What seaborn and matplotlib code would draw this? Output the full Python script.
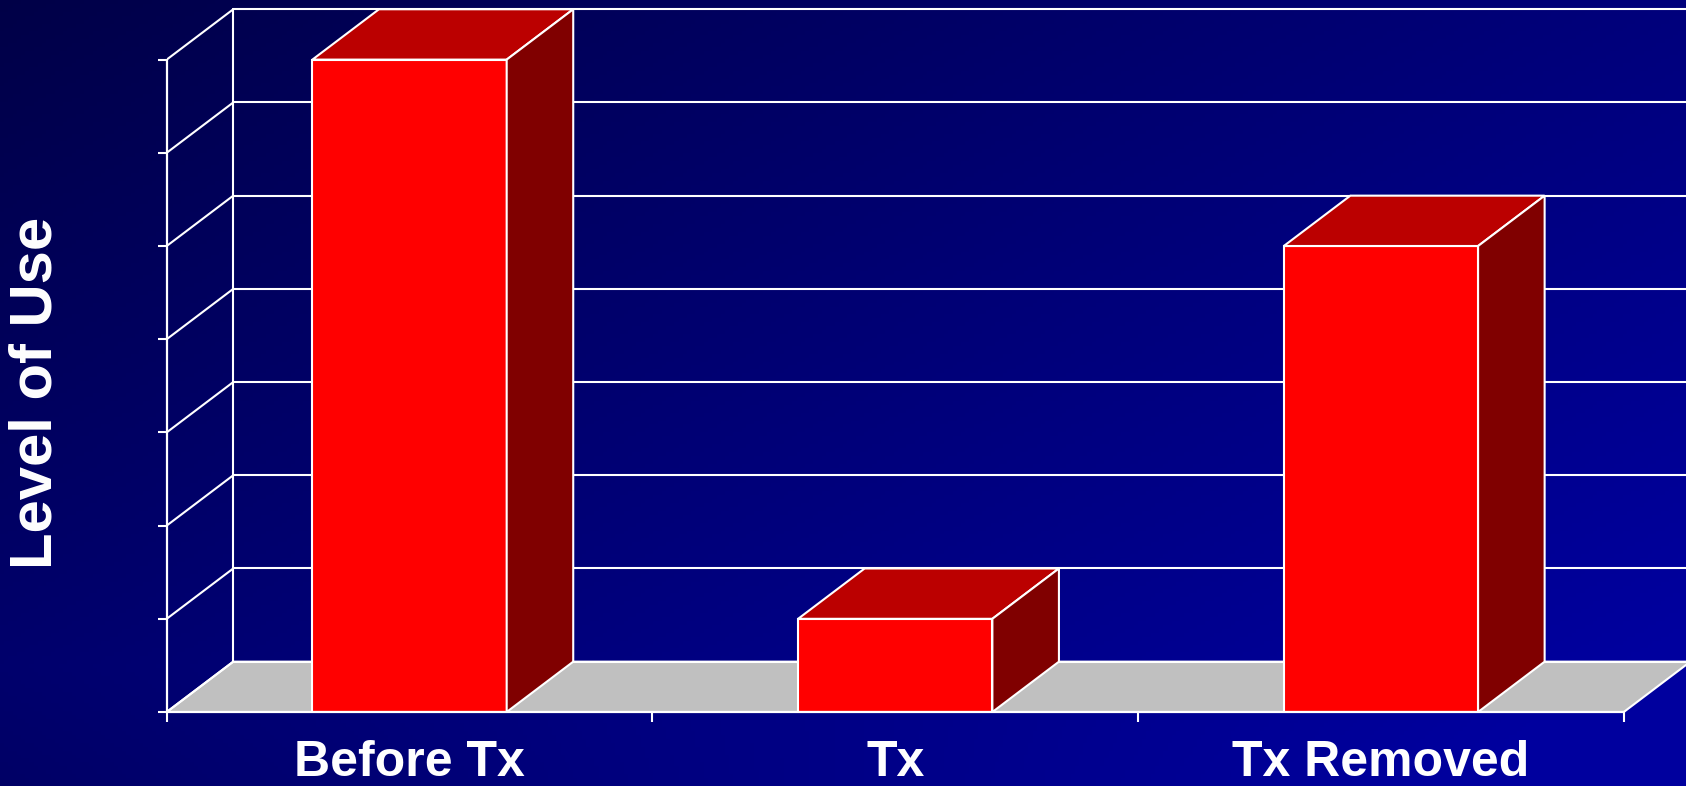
import numpy as np
import pandas as pd
import matplotlib
matplotlib.use("Agg")
import matplotlib.pyplot as plt
import seaborn as sns
from matplotlib.patches import Polygon

# dados (unidades = linhas de grade)
fases = ["Before Tx", "Tx", "Tx Removed"]
nivel = [7, 1, 5]
grade = [0, 1, 2, 3, 4, 5, 6, 7]

dados = pd.DataFrame({"fase": fases, "nivel": nivel})

sns.set_style("white")
plt.rcParams["font.family"] = ["Liberation Sans", "DejaVu Sans"]

fig = plt.figure(figsize=(16.86, 7.86), dpi=100)

# fundo azul em degrade
fundo = fig.add_axes([0, 0, 1, 1], zorder=-1)
xx, yy = np.meshgrid(np.linspace(0, 1, 400), np.linspace(0, 1, 200))
t = np.clip(0.6 * xx + 0.5 * yy - 0.25 * np.clip(yy - 0.85, 0, 1) * 4 * (1 - xx), 0, 1)
img = np.dstack([np.zeros_like(t), np.zeros_like(t), 0.28 + 0.34 * t])
fundo.imshow(img, aspect="auto", extent=[0, 1, 0, 1], origin="upper")
fundo.axis("off")

ax = fig.add_axes([166.7 / 1686, 74 / 786, 1 - 166.7 / 1686, 712 / 786])
ax.set_facecolor("none")

# profundidade do efeito 3D
dx, dy = 0.137, 0.54

sns.barplot(data=dados, x="fase", y="nivel", color="#FF0000", saturation=1,
            width=0.4, edgecolor="white", linewidth=1.5, ax=ax, zorder=3)

x_lo = -0.5
x_hi = len(fases) - 0.5

# chao cinza
ax.add_patch(Polygon([(x_lo, 0), (x_hi, 0), (x_hi + dx, dy), (x_lo + dx, dy)],
                     closed=True, fc="#C0C0C0", ec="white", lw=1.5, zorder=1))

# parede do fundo e parede lateral
for g in grade:
    ax.plot([x_lo + dx, x_hi + 2], [g + dy, g + dy], color="white", lw=1.5, zorder=1.5)
    ax.plot([x_lo, x_lo + dx], [g, g + dy], color="white", lw=1.5, zorder=1.5)
ax.plot([x_lo + dx, x_lo + dx], [dy, grade[-1] + dy], color="white", lw=1.5, zorder=1.5)

# topo e lado das barras
for p in list(ax.patches):
    if not hasattr(p, "get_x"):
        continue
    x0, w, h = p.get_x(), p.get_width(), p.get_height()
    ax.add_patch(Polygon([(x0, h), (x0 + w, h), (x0 + w + dx, h + dy), (x0 + dx, h + dy)],
                         closed=True, fc="#BB0000", ec="white", lw=1.5, zorder=3))
    ax.add_patch(Polygon([(x0 + w, 0), (x0 + w + dx, dy), (x0 + w + dx, h + dy), (x0 + w, h)],
                         closed=True, fc="#800000", ec="white", lw=1.5, zorder=3))

ax.set_xlim(x_lo, x_lo + 1519.3 / 485.7)
ax.set_ylim(0, 712 / 93.2)

for s in ["top", "right"]:
    ax.spines[s].set_visible(False)
ax.spines["left"].set_bounds(grade[0], grade[-1])
ax.spines["bottom"].set_bounds(x_lo, x_hi)
for s in ["left", "bottom"]:
    ax.spines[s].set_color("white")
    ax.spines[s].set_linewidth(1.6)
    ax.spines[s].set_zorder(4)

ax.set_yticks(grade)
ax.set_yticklabels([])
ax.tick_params(axis="y", left=True, direction="out", length=6.5, width=1.5, color="white")
ax.set_xticks(np.arange(x_lo, x_hi + 0.1, 1), minor=True)
ax.tick_params(axis="x", which="minor", bottom=True, direction="out", length=7.5,
               width=1.5, color="white")
ax.tick_params(axis="x", which="major", length=0, pad=20, labelsize=36, labelcolor="white")
for lab in ax.get_xticklabels():
    lab.set_fontweight("bold")

ax.set_xlabel("")
ax.set_ylabel("Level of Use", fontsize=43, fontweight="bold", color="white")
ax.yaxis.label.set_va("center")
ax.yaxis.set_label_coords(-0.0857, 0.448)

fig.savefig("out.png", dpi=100)
